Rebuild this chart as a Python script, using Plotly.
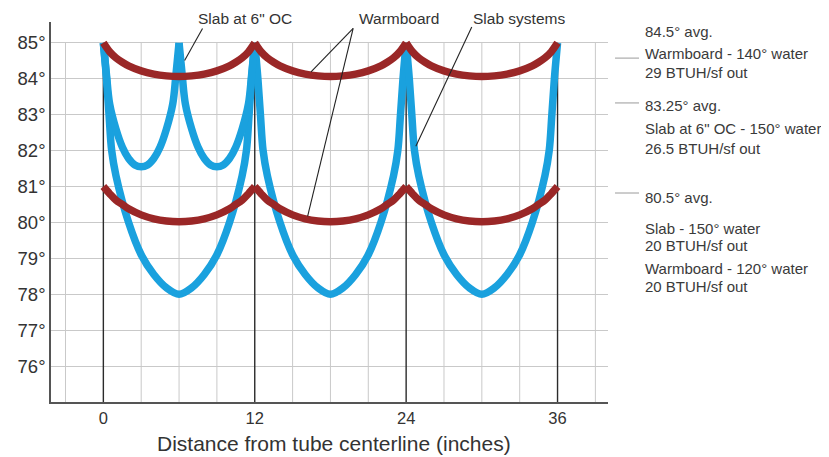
import plotly.graph_objects as go

# ---------------- data ----------------
TUBES = [0, 12, 24, 36]
X_TICKS = [0, 12, 24, 36]
Y_TICKS = [76, 77, 78, 79, 80, 81, 82, 83, 84, 85]
Y_TICK_LABELS = ["76°", "77°", "78°", "79°", "80°", "81°", "82°", "83°", "84°", "85°"]
GRID_X = [-3, 3, 6, 9, 15, 18, 21, 27, 30, 33, 39]
GRID_BOTTOM = 75
GRID_TOP = 85

# Slab systems, 150 deg water (big blue scallops)
SLAB_X1 = [0, 0.25, 0.45, 0.66, 1, 2, 3, 4, 5, 6, 7, 8, 9, 10, 11, 11.34, 11.55, 11.75, 12]
SLAB_X2 = [12, 12.25, 12.45, 12.66, 13, 14, 15, 16, 17, 18, 19, 20, 21, 22, 23, 23.34, 23.55, 23.75, 24]
SLAB_X3 = [24, 24.25, 24.45, 24.66, 25, 26, 27, 28, 29, 30, 31, 32, 33, 34, 35, 35.34, 35.55, 35.75, 36]
SLAB_Y1 = [85, 84, 83, 82, 81.3, 80, 79.1, 78.55, 78.18, 78, 78.18, 78.55, 79.1, 80, 81.3, 82, 83, 84, 85]
SLAB_Y2 = [85, 84, 83, 82, 81.3, 80, 79.1, 78.55, 78.18, 78, 78.18, 78.55, 79.1, 80, 81.3, 82, 83, 84, 85]
SLAB_Y3 = [85, 84, 83, 82, 81.3, 80, 79.1, 78.55, 78.18, 78, 78.18, 78.55, 79.1, 80, 81.3, 82, 83, 84, 85]

# Slab at 6" OC, 150 deg water (small blue scallops)
OC6_X1 = [0, 0.25, 0.5, 1, 1.5, 2, 2.5, 3, 3.5, 4, 4.5, 5, 5.5, 5.75, 6]
OC6_X2 = [6, 6.25, 6.5, 7, 7.5, 8, 8.5, 9, 9.5, 10, 10.5, 11, 11.5, 11.75, 12]
OC6_Y1 = [85, 84.1, 83.3, 82.6, 82.1, 81.78, 81.6, 81.55, 81.6, 81.78, 82.1, 82.6, 83.3, 84.1, 85]
OC6_Y2 = [85, 84.1, 83.3, 82.6, 82.1, 81.78, 81.6, 81.55, 81.6, 81.78, 82.1, 82.6, 83.3, 84.1, 85]

# Warmboard 140 deg water (upper red) and 120 deg water (lower red)
WB_X1 = [0, 0.5, 1, 1.5, 2, 3, 4, 5, 6, 7, 8, 9, 10, 10.5, 11, 11.5, 12]
WB_X2 = [12, 12.5, 13, 13.5, 14, 15, 16, 17, 18, 19, 20, 21, 22, 22.5, 23, 23.5, 24]
WB_X3 = [24, 24.5, 25, 25.5, 26, 27, 28, 29, 30, 31, 32, 33, 34, 34.5, 35, 35.5, 36]
WB140_Y = [85, 84.75, 84.58, 84.46, 84.36, 84.22, 84.13, 84.08, 84.06, 84.08, 84.13, 84.22, 84.36, 84.46, 84.58, 84.75, 85]
WB120_Y = [81, 80.8, 80.62, 80.5, 80.38, 80.21, 80.1, 80.04, 80.02, 80.04, 80.1, 80.21, 80.38, 80.5, 80.62, 80.8, 81]

# pointer lines: (x_start, y_start, x_end, y_end) in data units
POINTERS = [
    (7.86, 85.40, 6.44, 84.51),
    (19.8, 85.40, 16.46, 84.19),
    (19.8, 85.40, 16.19, 80.17),
    (29.2, 85.44, 24.77, 82.12),
]

TOP_LABELS = ['Slab at 6" OC', "Warmboard", "Slab systems"]
TOP_LABEL_X = [0.3483, 0.6248, 0.8402]

SIDE_TEXT = [
    "84.5° avg.", "Warmboard - 140° water", "29 BTUH/sf out",
    "83.25° avg.", 'Slab at 6" OC - 150° water', "26.5 BTUH/sf out",
    "80.5° avg.", "Slab - 150° water", "20 BTUH/sf out",
    "Warmboard - 120° water", "20 BTUH/sf out",
]
SIDE_TEXT_Y = [0.976, 0.918, 0.866, 0.779, 0.720, 0.666, 0.539, 0.457, 0.413, 0.351, 0.303]
SIDE_TICK_Y = [0.905, 0.787, 0.550]

X_TITLE = "Distance from tube centerline (inches)"

BLUE = "#1aa1de"
RED = "#9a2727"
FONT = "Liberation Sans, Arial, sans-serif"

fig = go.Figure()

# vertical grid lines (stop at 85)
gx, gy = [], []
for g in GRID_X:
    gx += [g, g, None]
    gy += [GRID_BOTTOM, GRID_TOP, None]
fig.add_trace(go.Scatter(x=gx, y=gy, mode="lines", line=dict(color="#c9c9c9", width=1),
                         hoverinfo="skip", showlegend=False))

# tube centerlines
tx, ty = [], []
for t in TUBES:
    tx += [t, t, None]
    ty += [GRID_BOTTOM, GRID_TOP, None]
fig.add_trace(go.Scatter(x=tx, y=ty, mode="lines", line=dict(color="#2b2b2b", width=1.4),
                         hoverinfo="skip", showlegend=False))

blue_line = dict(color=BLUE, width=7.5, shape="spline", smoothing=1.0)
red_line = dict(color=RED, width=7.5, shape="spline", smoothing=0.9)

for xs, ys in [(SLAB_X1, SLAB_Y1), (SLAB_X2, SLAB_Y2), (SLAB_X3, SLAB_Y3),
               (OC6_X1, OC6_Y1), (OC6_X2, OC6_Y2)]:
    fig.add_trace(go.Scatter(x=xs, y=ys, mode="lines", line=blue_line, showlegend=False))

for xs in [WB_X1, WB_X2, WB_X3]:
    fig.add_trace(go.Scatter(x=xs, y=WB140_Y, mode="lines", line=red_line, showlegend=False))
    fig.add_trace(go.Scatter(x=xs, y=WB120_Y, mode="lines", line=red_line, showlegend=False))

shapes = []
for x0, y0, x1, y1 in POINTERS:
    shapes.append(dict(type="line", xref="x", yref="y", x0=x0, y0=y0, x1=x1, y1=y1,
                       line=dict(color="#222222", width=1.1)))
for yv in SIDE_TICK_Y:
    shapes.append(dict(type="line", xref="paper", yref="paper", x0=1.0126, x1=1.0557,
                       y0=yv, y1=yv, line=dict(color="#9a9a9a", width=1)))

annotations = []
for txt, xv in zip(TOP_LABELS, TOP_LABEL_X):
    annotations.append(dict(text=txt, x=xv, y=1.0105, xref="paper", yref="paper",
                            showarrow=False, xanchor="center", yanchor="middle",
                            font=dict(family=FONT, size=15.5, color="#333333")))
for txt, yv in zip(SIDE_TEXT, SIDE_TEXT_Y):
    annotations.append(dict(text=txt, x=1.0628, y=yv, xref="paper", yref="paper",
                            showarrow=False, xanchor="left", yanchor="middle",
                            font=dict(family=FONT, size=15, color="#3a3a3a")))
annotations.append(dict(text=X_TITLE, x=0.508, y=-0.1105, xref="paper", yref="paper",
                        showarrow=False, xanchor="center", yanchor="middle",
                        font=dict(family=FONT, size=21, color="#333333")))

# the page body adds an 8px offset; margins compensate so the plot area lands where the reference has it
fig.update_layout(
    width=829, height=457,
    margin=dict(l=43, r=229, t=14, b=63),
    paper_bgcolor="white", plot_bgcolor="white",
    font=dict(family=FONT, color="#333333"),
    shapes=shapes, annotations=annotations,
    xaxis=dict(range=[-4.15, 40], tickvals=X_TICKS, showgrid=False, zeroline=False,
               showline=True, linecolor="#555555", linewidth=1.5, ticks="",
               automargin=False, ticklabelstandoff=0,
               tickfont=dict(size=16.5, color="#333333")),
    yaxis=dict(range=[75, 85.58], tickvals=Y_TICKS, ticktext=Y_TICK_LABELS, showgrid=True,
               gridcolor="#c9c9c9", gridwidth=1, zeroline=False,
               showline=True, linecolor="#555555", linewidth=1.5, ticks="",
               automargin=False, ticklabelstandoff=0,
               tickfont=dict(size=18.5, color="#333333")),
)

fig.write_html("out.html")
